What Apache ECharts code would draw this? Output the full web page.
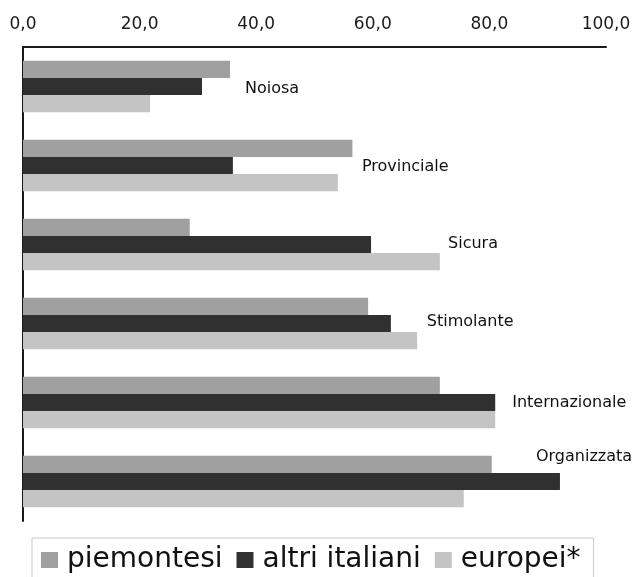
<!DOCTYPE html>
<html>
<head>
<meta charset="utf-8">
<script src="https://cdn.jsdelivr.net/npm/echarts@6/dist/echarts.min.js"></script>
<style>
  html, body { margin: 0; padding: 0; background: #fff; }
  #chart { width: 635px; height: 577px; }
</style>
</head>
<body>
<div id="chart"></div>
<script>
// Percentuali per aggettivo e gruppo di provenienza
const categories = ['Noiosa', 'Provinciale', 'Sicura', 'Stimolante', 'Internazionale', 'Organizzata'];
const piemontesi = [35.5, 56.5, 28.6, 59.2, 71.5, 80.4];
const altriItaliani = [30.7, 36.0, 59.7, 63.1, 81.0, 92.1];
const europei = [21.8, 54.0, 71.5, 67.6, 81.0, 75.6];
const seriesNames = ['piemontesi', 'altri italiani', 'europei*'];
const xTicks = [0, 20, 40, 60, 80, 100];

// Where each category name sits relative to the end of its "altri italiani" bar
const labelOffsets = [[43, 2], [129, 1], [77, -1], [36, -2], [17, 0], [-24, -25]];

const FONT = 'DejaVu Sans';
const colors = ['#a0a0a0', '#303030', '#c4c4c4'];

const chart = echarts.init(document.getElementById('chart'), null, { renderer: 'canvas' });

const altriData = altriItaliani.map((v, i) => ({
  value: v,
  label: {
    show: true,
    position: 'right',
    distance: 0,
    offset: labelOffsets[i],
    formatter: categories[i]
  }
}));

chart.setOption({
  animation: false,
  backgroundColor: '#ffffff',
  color: colors,
  grid: { left: 23, right: 29, top: 47, bottom: 56, containLabel: false },
  xAxis: {
    type: 'value',
    position: 'top',
    min: xTicks[0],
    max: xTicks[xTicks.length - 1],
    interval: xTicks[1] - xTicks[0],
    axisLine: { show: true, onZero: false, lineStyle: { color: '#1a1a1a', width: 2 } },
    axisTick: { show: false },
    splitLine: { show: false },
    axisLabel: {
      margin: 14,
      fontFamily: FONT,
      fontSize: 17,
      color: '#1a1a1a',
      formatter: v => v.toFixed(1).replace('.', ',')
    }
  },
  yAxis: {
    type: 'category',
    inverse: true,
    data: categories,
    axisLine: { show: true, onZero: false, lineStyle: { color: '#1a1a1a', width: 2 } },
    axisTick: { show: false },
    axisLabel: { show: false },
    splitLine: { show: false }
  },
  legend: {
    data: seriesNames,
    left: 32,
    top: 538,
    orient: 'horizontal',
    padding: [8, 13, 20, 9],
    borderColor: '#c8c8c8',
    borderWidth: 1,
    itemWidth: 17,
    itemHeight: 16,
    itemGap: 14,
    icon: 'rect',
    textStyle: { fontFamily: FONT, fontSize: 28, color: '#111', padding: [0, 0, 0, 4] }
  },
  series: [
    {
      name: seriesNames[0],
      type: 'bar',
      data: piemontesi,
      barGap: '0%',
      barCategoryGap: '35%',
      itemStyle: { color: colors[0] }
    },
    {
      name: seriesNames[1],
      type: 'bar',
      data: altriData,
      barGap: '0%',
      barCategoryGap: '35%',
      itemStyle: { color: colors[1] },
      label: { fontFamily: FONT, fontSize: 16, color: '#111' }
    },
    {
      name: seriesNames[2],
      type: 'bar',
      data: europei,
      barGap: '0%',
      barCategoryGap: '35%',
      itemStyle: { color: colors[2] }
    }
  ]
});
</script>
</body>
</html>
